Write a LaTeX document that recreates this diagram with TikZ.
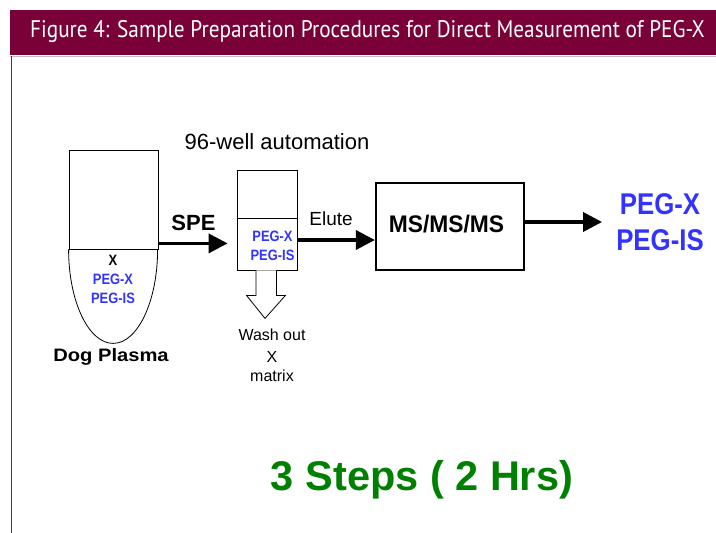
\documentclass[tikz,border=0pt]{standalone}
\usepackage{fontspec}
\setmainfont{Liberation Sans}
\newfontfamily\headfont{PT Sans}
\usetikzlibrary{arrows.meta, positioning, calc}
\definecolor{cHd}{RGB}{122,  0, 56}
\definecolor{cPg}{RGB}{ 51, 51,255}
\definecolor{cSt}{RGB}{  0,128,  0}
\newcommand\narrow[1]{\scalebox{0.86}[1]{#1}}
\tikzset{
  vessel/.style={rectangle, draw=black, line width=0.8pt, inner sep=0pt},
  pegtxt/.style={font=\bfseries\fontsize{15}{19}\selectfont, text=cPg,
                 align=center, inner sep=0pt},
  lbl/.style={font=\fontsize{#1}{#1}\selectfont, inner sep=0pt, align=center},
  fa/.style={-{Triangle[length=19pt,width=19pt]}, line width=3.5pt},
}

\begin{document}
\begin{tikzpicture}[x=1pt, y=1pt]
\useasboundingbox (0,0) rectangle (716,-533);

%% -- header band and frame ---------------------------------------------------
\fill[cHd] (10,-10) rectangle (716,-55);
\node[font=\headfont\fontsize{24}{24}\selectfont, text=white, anchor=west,
      inner sep=0pt] (title) at (30,-31)
  {\scalebox{0.885}[1]{Figure 4: Sample Preparation Procedures for Direct Measurement of PEG-X}};
\draw[black!25, line width=0.8pt] (10,-56) -- (716,-56);
\draw[black!75, line width=1pt] (11,-56) -- (11,-533);

%% -- dog plasma tube ---------------------------------------------------------
\node[vessel, minimum width=89pt, minimum height=99pt] (tube) at (113.5,-199.5) {};
\draw[line width=0.8pt] (tube.south west)
  arc[start angle=180, end angle=360, x radius=44.5pt, y radius=94pt];
\node[font=\bfseries\fontsize{15}{15}\selectfont, inner sep=0pt] (xa) at (113,-260) {\narrow{X}};
\node[pegtxt] (tpeg) at (113,-289) {\narrow{PEG-X}\\\narrow{PEG-IS}};
\node[font=\bfseries\fontsize{18}{18}\selectfont, inner sep=0pt] (dog) at (111,-357)
  {\scalebox{1.12}[1]{Dog Plasma}};

%% -- SPE column --------------------------------------------------------------
\node[vessel, minimum width=60pt, minimum height=100pt] (col) at (267,-220) {};
\draw[line width=0.8pt] ([yshift=-49pt]col.north west) -- ([yshift=-49pt]col.north east);
\node[pegtxt] (cpeg) at (272.5,-246) {\narrow{PEG-X}\\\narrow{PEG-IS}};
\node[lbl=22] (auto) at (277,-142) {96-well automation};

% hollow wash arrow
\draw[line width=0.8pt, fill=white]
  ([xshift=-11pt]col.south) -- ++(0,-25) -- ++(-9.5,0) -- ($(col.south)+(-2,-48)$)
  -- ++(20.5,23) -- ++(-9,0) -- ([xshift=9.5pt]col.south);
\node[lbl=16, anchor=north] (wash) at (272,-329)
  {Wash out\\[6pt]X\\[3pt]matrix};

%% -- MS box and result -------------------------------------------------------
\node[rectangle, draw=black, line width=2.2pt, minimum width=148pt,
      minimum height=87pt] (ms) at (450,-226.5) {};
\node[font=\bfseries\fontsize{24}{24}\selectfont, inner sep=0pt] (mst) at (446.5,-224)
  {\scalebox{0.95}[1]{MS/MS/MS}};
\node[font=\bfseries\fontsize{30}{36}\selectfont, text=cPg, align=center,
      inner sep=0pt] (out) at (660,-222) {\narrow{PEG-X}\\\narrow{PEG-IS}};

%% -- arrows ------------------------------------------------------------------
\draw[fa, shorten >=9pt] ([yshift=6pt]tube.south east)
  -- ([yshift=6pt]tube.south east -| col.west)
  node[midway, above=11pt, xshift=-4pt, font=\bfseries\fontsize{22}{22}\selectfont,
       inner sep=0pt] {SPE};
\draw[fa] ([yshift=-20pt]col.east) -- ([yshift=-20pt]col.east -| ms.west)
  node[midway, above=13pt, xshift=-5pt, lbl=19] {Elute};
\draw[fa, shorten >=14pt] ([yshift=4.5pt]ms.east) -- ([yshift=4.5pt]ms.east -| out.west);

%% -- summary -----------------------------------------------------------------
\node[font=\bfseries\fontsize{41.5}{41.5}\selectfont, text=cSt, inner sep=0pt] (steps)
  at (422,-480) {3 Steps ( 2 Hrs)};

\end{tikzpicture}
\end{document}
